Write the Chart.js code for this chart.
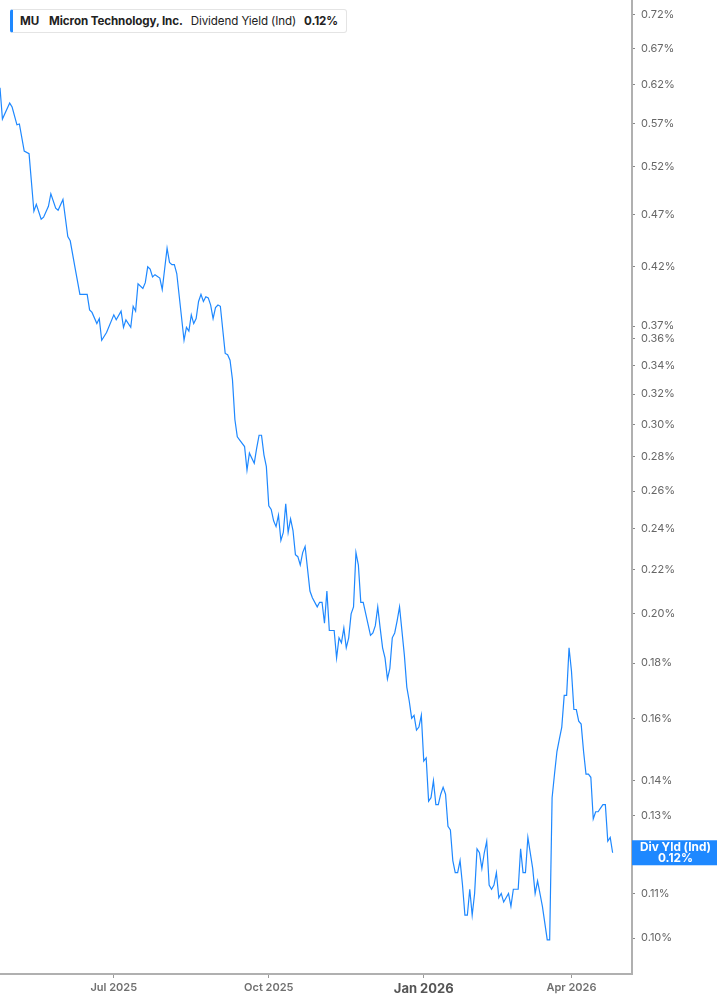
<!DOCTYPE html>
<html>
<head>
<meta charset="utf-8">
<script src="https://cdn.jsdelivr.net/npm/chart.js@4.4.1/dist/chart.umd.min.js"></script>
<style>
  body { margin: 0; background: #fff; font-family: Inter, "Noto Sans", sans-serif; }
  #wrap { position: relative; width: 717px; height: 1005px; }
  #legendBox {
    position: absolute; left: 10px; top: 9px; height: 24px;
    box-sizing: border-box; padding: 0 8px 0 7px;
    border: 1px solid #e4e4e4; border-left: 3px solid #1e88ff; border-radius: 3px;
    background: #fff; font-size: 11.6px; line-height: 22px; color: #222; white-space: nowrap;
    letter-spacing: -0.1px;
  }
  #legendBox b { font-weight: 700; }
  #legendBox span { margin-right: 8px; }
  #legendBox span.first { margin-right: 10px; }
</style>
</head>
<body>
<div id="wrap">
  <canvas id="divChart"></canvas>
  <div id="legendBox"><span class="first"><b>MU</b></span><span><b>Micron Technology, Inc.</b></span><span>Dividend Yield (Ind)</span><b>0.12%</b></div>
</div>
<script>
// dados (indice de pregao, dividend yield em %)
const days = [
  0, 1, 4, 5, 7, 8, 10, 12, 14, 15,
  17, 18, 20, 21, 23, 24, 26, 28, 29, 31,
  33, 36, 37, 38, 40, 41, 42, 44, 47, 48,
  50, 51, 52, 54, 55, 56, 57, 59, 60, 61,
  62, 63, 64, 66, 67, 69, 70, 71, 72, 73,
  76, 77, 78, 79, 80, 81, 82, 83, 84, 85,
  86, 87, 88, 89, 90, 91, 93, 94, 95, 96,
  97, 98, 99, 101, 102, 103, 105, 106, 107, 108,
  109, 110, 111, 112, 113, 114, 115, 116, 117, 118,
  119, 120, 121, 122, 123, 124, 125, 126, 128, 129,
  131, 132, 133, 134, 135, 136, 137, 138, 139, 140,
  141, 142, 143, 144, 145, 146, 147, 148, 149, 150,
  153, 154, 155, 156, 157, 158, 159, 160, 161, 162,
  163, 164, 165, 167, 168, 169, 170, 171, 172, 173,
  174, 175, 176, 177, 178, 179, 180, 181, 182, 183,
  184, 185, 186, 187, 188, 189, 190, 191, 192, 193,
  194, 195, 196, 197, 198, 199, 200, 201, 202, 203,
  204, 205, 206, 207, 208, 209, 210, 211, 212, 213,
  214, 215, 216, 217, 218, 220, 221, 222, 224, 226,
  227, 228, 229, 230, 231, 232, 233, 234, 235, 236,
  237, 238, 239, 240, 241, 242, 243, 244, 245, 246,
  247, 248, 249, 250, 251, 252, 253
];
const yields = [
  0.616, 0.576, 0.596, 0.591, 0.569, 0.570, 0.538, 0.535, 0.473, 0.480,
  0.465, 0.467, 0.478, 0.491, 0.476, 0.474, 0.485, 0.448, 0.444, 0.419,
  0.396, 0.396, 0.383, 0.381, 0.372, 0.376, 0.359, 0.365, 0.379, 0.375,
  0.382, 0.369, 0.375, 0.369, 0.386, 0.382, 0.405, 0.401, 0.406, 0.420,
  0.418, 0.411, 0.413, 0.410, 0.400, 0.437, 0.424, 0.422, 0.422, 0.414,
  0.359, 0.369, 0.366, 0.379, 0.372, 0.376, 0.390, 0.396, 0.390, 0.394,
  0.393, 0.387, 0.376, 0.385, 0.387, 0.386, 0.349, 0.348, 0.344, 0.330,
  0.303, 0.292, 0.290, 0.286, 0.272, 0.282, 0.276, 0.285, 0.293, 0.293,
  0.281, 0.274, 0.252, 0.250, 0.244, 0.241, 0.247, 0.234, 0.238, 0.253,
  0.238, 0.245, 0.239, 0.227, 0.226, 0.222, 0.228, 0.231, 0.210, 0.207,
  0.203, 0.205, 0.205, 0.196, 0.210, 0.193, 0.193, 0.193, 0.182, 0.190,
  0.188, 0.194, 0.186, 0.190, 0.200, 0.203, 0.228, 0.222, 0.205, 0.205,
  0.191, 0.192, 0.195, 0.203, 0.194, 0.186, 0.182, 0.174, 0.178, 0.190,
  0.192, 0.197, 0.203, 0.183, 0.171, 0.166, 0.160, 0.161, 0.156, 0.157,
  0.161, 0.146, 0.147, 0.134, 0.135, 0.140, 0.133, 0.133, 0.136, 0.138,
  0.136, 0.127, 0.126, 0.118, 0.115, 0.115, 0.118, 0.112, 0.105, 0.105,
  0.111, 0.105, 0.110, 0.121, 0.120, 0.116, 0.120, 0.123, 0.112, 0.111,
  0.112, 0.115, 0.109, 0.110, 0.108, 0.109, 0.110, 0.107, 0.111, 0.111,
  0.111, 0.121, 0.115, 0.115, 0.124, 0.116, 0.110, 0.113, 0.107, 0.0996,
  0.0996, 0.135, 0.142, 0.149, 0.153, 0.157, 0.168, 0.168, 0.186, 0.177,
  0.163, 0.163, 0.159, 0.158, 0.149, 0.142, 0.142, 0.141, 0.129, 0.131,
  0.131, 0.132, 0.133, 0.133, 0.123, 0.124, 0.120
];

// marcas dos eixos
const xTickDays = [47, 111, 175, 236];
const xTickLabels = ['Jul 2025', 'Oct 2025', 'Jan 2026', 'Apr 2026'];
const yTickValues = [0.72, 0.67, 0.62, 0.57, 0.52, 0.47, 0.42, 0.37, 0.36, 0.34, 0.32, 0.30,
  0.28, 0.26, 0.24, 0.22, 0.20, 0.18, 0.16, 0.14, 0.13, 0.12, 0.11, 0.10];

const lineBlue = '#1e88ff';
const fontFamily = 'Inter, "Noto Sans", sans-serif';

// etiqueta azul com o ultimo valor no eixo da direita
const lastValueBadge = {
    id: 'lastValueBadge',
    afterDraw(chart) {
        const ctx = chart.ctx;
        const area = chart.chartArea;
        const y = chart.scales.y.getPixelForValue(yields[yields.length - 1]);
        const x0 = area.right;
        const w = chart.width - x0;
        ctx.save();
        ctx.fillStyle = lineBlue;
        ctx.fillRect(x0, y - 12.5, w, 25);
        ctx.fillStyle = '#fff';
        ctx.font = 'bold 11.8px ' + fontFamily;
        ctx.textAlign = 'center';
        ctx.textBaseline = 'middle';
        ctx.fillText('Div Yld (Ind)', x0 + w / 2 + 1, y - 5.5);
        ctx.fillText(yields[yields.length - 1].toFixed(2) + '%', x0 + w / 2 + 1, y + 6);
        ctx.restore();
    }
};

const points = days.map((d, i) => ({ x: d, y: yields[i] }));

new Chart(document.getElementById('divChart'), {
    type: 'line',
    data: {
        datasets: [{
            label: 'Dividend Yield (Ind)',
            data: points,
            borderColor: lineBlue,
            borderWidth: 1.2,
            pointRadius: 0,
            tension: 0,
            fill: false
        }]
    },
    options: {
        responsive: true,
        maintainAspectRatio: false,
        animation: false,
        devicePixelRatio: 1,
        layout: { padding: 0 },
        plugins: {
            legend: { display: false },
            tooltip: { enabled: false }
        },
        scales: {
            x: {
                type: 'linear',
                min: 0,
                max: 261,
                afterBuildTicks: (scale) => { scale.ticks = xTickDays.map(v => ({ value: v })); },
                afterFit: (scale) => { scale.height = 31; scale.paddingLeft = 0; scale.paddingRight = 0; },
                border: { display: true, color: '#b0b0b0', width: 2 },
                grid: { display: true, drawOnChartArea: false, drawTicks: true, tickLength: 4, tickColor: '#999' },
                ticks: {
                    autoSkip: false,
                    maxRotation: 0,
                    padding: 3,
                    callback: (v) => xTickLabels[xTickDays.indexOf(v)],
                    color: (c) => (c.tick && c.tick.value === 175) ? '#555' : '#707070',
                    font: (c) => (c.tick && c.tick.value === 175)
                        ? { family: fontFamily, size: 13, weight: 'bold' }
                        : { family: fontFamily, size: 11, weight: '600' }
                }
            },
            y: {
                type: 'logarithmic',
                position: 'right',
                min: 0.0926,
                max: 0.743,
                afterBuildTicks: (scale) => { scale.ticks = yTickValues.map(v => ({ value: v })); },
                afterFit: (scale) => { scale.width = 85; scale.paddingTop = 0; scale.paddingBottom = 0; },
                border: { display: true, color: '#b0b0b0', width: 2 },
                grid: { display: true, drawOnChartArea: false, drawTicks: true, tickLength: 3, tickColor: '#888' },
                ticks: {
                    autoSkip: false,
                    padding: 6,
                    color: '#666',
                    font: { family: fontFamily, size: 11 },
                    callback: (v) => v.toFixed(2) + '%'
                }
            }
        }
    },
    plugins: [lastValueBadge]
});
</script>
</body>
</html>
